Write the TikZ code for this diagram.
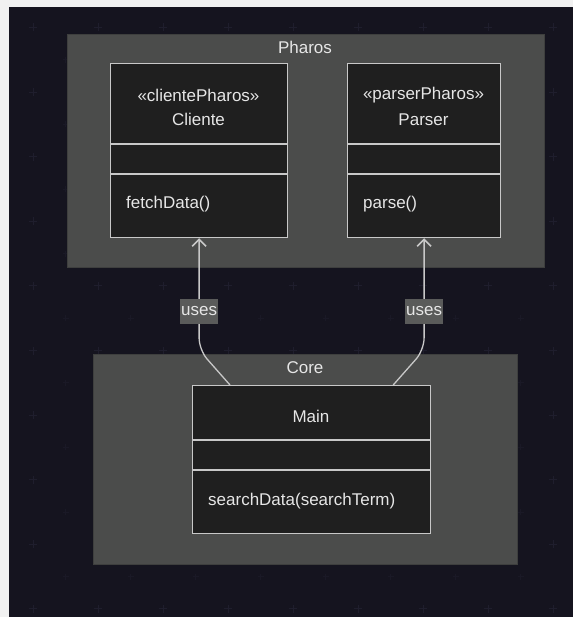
\documentclass[tikz,border=0pt]{standalone}
\usepackage{fontspec}
\setmainfont{Liberation Sans}
\usetikzlibrary{arrows.meta,calc}

\definecolor{pagebg}{HTML}{F1F1F1}
\definecolor{canvas}{HTML}{15141F}
\definecolor{gridmark}{HTML}{1F1E2D}
\definecolor{gridminor}{HTML}{1A1926}
\definecolor{clusterfill}{HTML}{4B4C4B}
\definecolor{clusterline}{HTML}{3E3F3E}
\definecolor{classfill}{HTML}{1F1F1F}
\definecolor{classline}{HTML}{C8C8C8}
\definecolor{txt}{HTML}{E6E6E6}
\definecolor{lblfill}{HTML}{5A5B5A}

\tikzset{
  cluster/.style={draw=clusterline, fill=clusterfill, line width=1pt,
    inner sep=0pt, anchor=north west},
  classbox/.style={draw=classline, fill=classfill, line width=1.2pt,
    inner sep=0pt, anchor=north west},
  divider/.style={draw=classline, line width=1.2pt},
  txtnode/.style={text=txt, inner sep=0pt,
    font=\fontsize{17}{20}\selectfont},
  lbl/.style={fill=lblfill, text=txt, inner xsep=1pt, inner ysep=0pt,
    minimum height=25pt, font=\fontsize{17}{20}\selectfont},
  edge/.style={draw=classline, line width=1.3pt, rounded corners=12pt,
    -{Straight Barb[length=7pt,width=14pt,line width=1.6pt]}},
}

\begin{document}
\begin{tikzpicture}[x=1pt,y=-1pt]
  % page and dark canvas
  \useasboundingbox (0,0) rectangle (573,617);
  \fill[pagebg] (0,0) rectangle (573,617);
  \fill[canvas] (9,7) rectangle (573,617);

  % faint plus-mark grid on the canvas
  \foreach \i in {0,...,8} {
    \foreach \j in {0,...,9} {
      \pgfmathsetmacro{\gx}{33+65*\i}
      \pgfmathsetmacro{\gy}{27.5+64.6*\j}
      \draw[gridmark, line width=0.9pt] (\gx-4,\gy) -- (\gx+4,\gy)
        (\gx,\gy-4) -- (\gx,\gy+4);
      \pgfmathsetmacro{\hx}{\gx+32.5}
      \pgfmathsetmacro{\hy}{\gy+32.3}
      \draw[gridminor, line width=0.8pt] (\hx-3,\hy) -- (\hx+3,\hy)
        (\hx,\hy-3) -- (\hx,\hy+3);
    }
  }

  % packages
  \node[cluster, minimum width=477pt, minimum height=233pt] (pharos) at (67,34) {};
  \node[txtnode] (pharoslbl) at (305,47) {Pharos};
  \node[cluster, minimum width=424pt, minimum height=210pt] (core) at (93,354) {};
  \node[txtnode] (corelbl) at (305,368) {Core};

  % class Cliente
  \node[classbox, minimum width=177pt, minimum height=174pt] (cliente) at (110,63) {};
  \draw[divider] (110,144) -- (287,144) (110,174) -- (287,174);
  \node[txtnode] (clientest) at (198.5,95) {«clientePharos»};
  \node[txtnode] (clientenm) at (198.5,119.5) {Cliente};
  \node[txtnode, anchor=west] (clientemt) at (126,204) {fetchData()};

  % class Parser
  \node[classbox, minimum width=153pt, minimum height=174pt] (parser) at (347,63) {};
  \draw[divider] (347,144) -- (500,144) (347,174) -- (500,174);
  \node[txtnode] (parserst) at (423.5,95) {«parserPharos»};
  \node[txtnode] (parsernm) at (423.5,119.5) {Parser};
  \node[txtnode, anchor=west] (parsermt) at (363,204) {parse()};

  % class Main
  \node[classbox, minimum width=238pt, minimum height=148pt] (main) at (192,385) {};
  \draw[divider] (192,440) -- (430,440) (192,470) -- (430,470);
  \node[txtnode] (mainnm) at (311,416) {Main};
  \node[txtnode, anchor=west] (mainmt) at (208,501) {searchData(searchTerm)};

  % dependencies
  \coordinate (mainL) at ($(main.north west)+(38,0)$);
  \coordinate (mainR) at ($(main.north east)+(-38,0)$);
  \draw[edge] (mainL) -- (cliente.south |- 0,350) -- (cliente.south);
  \draw[edge] (mainR) -- (parser.south |- 0,350) -- (parser.south);
  \node[lbl] (uses1) at (cliente.south |- 0,311) {uses};
  \node[lbl] (uses2) at (parser.south |- 0,311) {uses};
\end{tikzpicture}
\end{document}
